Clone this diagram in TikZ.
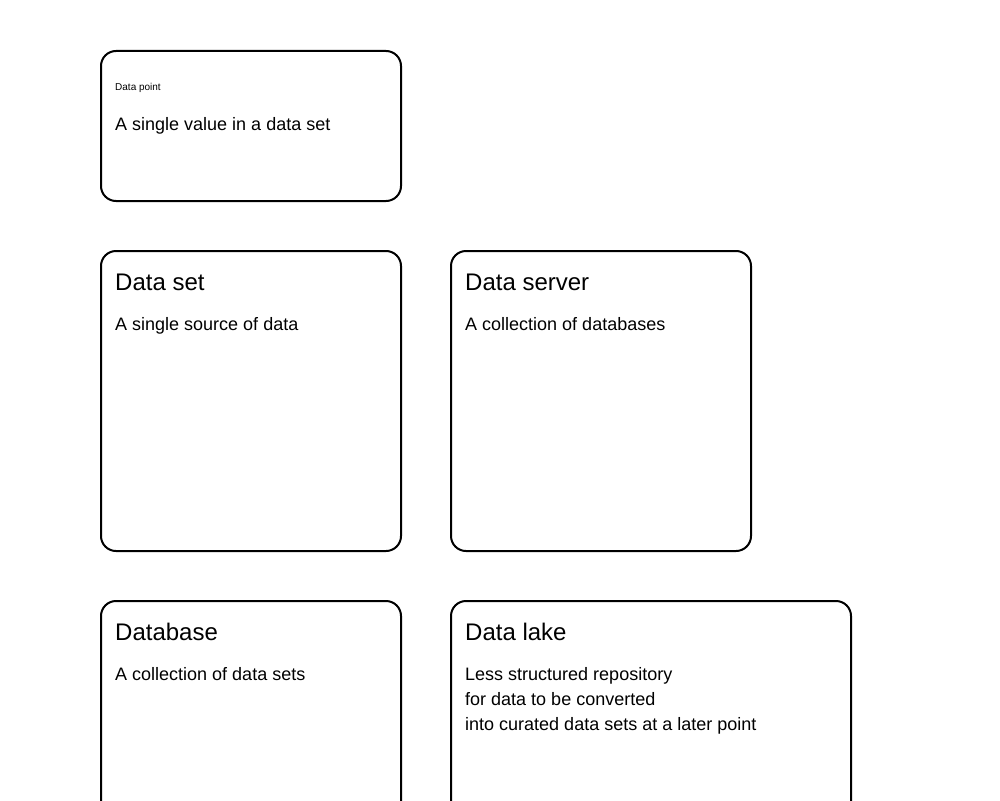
\documentclass[tikz,border=0pt]{standalone}
\usepackage{fontspec}
\setmainfont{Liberation Sans}
\begin{document}
\begin{tikzpicture}[x=1pt,y=1pt,
  card/.style={draw,line width=2pt,rounded corners=15pt,anchor=north west,minimum width=300pt,minimum height=300pt,inner sep=0pt},
  cardtitle/.style={anchor=base west,inner sep=0pt,font=\fontsize{24}{28}\selectfont},
  smalltitle/.style={anchor=base west,inner sep=0pt,font=\fontsize{10}{12}\selectfont},
  cardtext/.style={anchor=base west,inner sep=0pt,align=left,font=\fontsize{18}{25}\selectfont}]
\useasboundingbox (0,0) rectangle (1000,-800);
\clip (0,0) rectangle (1000,-800);
% cards
\node[card,minimum height=150pt] (point) at (100,-50) {};
\node[card] (set) at (100,-250) {};
\node[card] (server) at (450,-250) {};
\node[card] (base) at (100,-600) {};
\node[card,minimum width=400pt] (lake) at (450,-600) {};
% titles and texts
\node[smalltitle] (pointtitle) at ([shift={(15,-40)}]point.north west) {Data point};
\node[cardtext] (pointtext) at ([shift={(15,-80)}]point.north west) {A single value in a data set};
\node[cardtitle] (settitle) at ([shift={(15,-40)}]set.north west) {Data set};
\node[cardtext] (settext) at ([shift={(15,-80)}]set.north west) {A single source of data};
\node[cardtitle] (servertitle) at ([shift={(15,-40)}]server.north west) {Data server};
\node[cardtext] (servertext) at ([shift={(15,-80)}]server.north west) {A collection of databases};
\node[cardtitle] (basetitle) at ([shift={(15,-40)}]base.north west) {Database};
\node[cardtext] (basetext) at ([shift={(15,-80)}]base.north west) {A collection of data sets};
\node[cardtitle] (laketitle) at ([shift={(15,-40)}]lake.north west) {Data lake};
% base of a multi-line node is its last line
\node[cardtext] (laketext) at ([shift={(15,-130)}]lake.north west) {Less structured repository\\for data to be converted\\into curated data sets at a later point};
\end{tikzpicture}
\end{document}
